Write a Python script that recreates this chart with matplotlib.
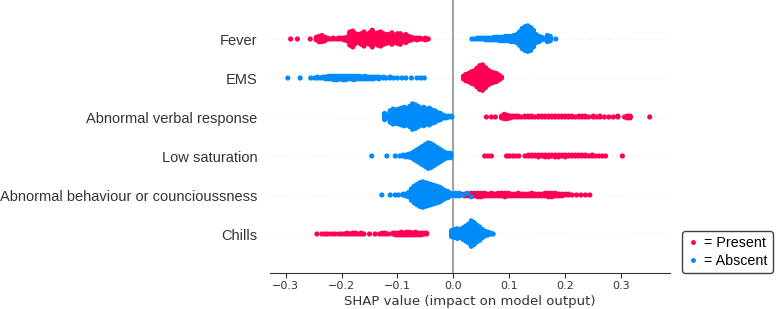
import numpy as np
import matplotlib
matplotlib.use("Agg")
import matplotlib.pyplot as plt
from matplotlib.lines import Line2D

RED = "#ff0052"
BLUE = "#008bfb"

features = ["Fever", "EMS", "Abnormal verbal response", "Low saturation",
            "Abnormal behaviour or councioussness", "Chills"]

# SHAP values: value of a little bin and how many dots sit in it
fever_present_x = [-0.291, -0.279, -0.256, -0.245, -0.240, -0.235, -0.230, -0.225, -0.220, -0.215,
                   -0.210, -0.205, -0.200, -0.195, -0.190, -0.185, -0.180, -0.175, -0.170, -0.165,
                   -0.160, -0.155, -0.150, -0.145, -0.140, -0.135, -0.130, -0.125, -0.120, -0.115,
                   -0.110, -0.105, -0.100, -0.095, -0.090, -0.085, -0.080, -0.075, -0.070, -0.065,
                   -0.060, -0.055, -0.050, -0.045]
fever_present_n = [1, 1, 1, 4, 7, 8, 5, 2, 1, 2,
                   1, 2, 2, 3, 5, 16, 19, 12, 10, 13,
                   17, 11, 14, 20, 12, 15, 17, 13, 11, 10,
                   14, 9, 12, 13, 8, 10, 6, 4, 2, 3,
                   2, 1, 3, 1]
fever_absent_x = [0.033, 0.038, 0.043, 0.048, 0.053, 0.058, 0.063, 0.068, 0.073, 0.078,
                  0.083, 0.088, 0.093, 0.098, 0.103, 0.108, 0.113, 0.118, 0.123, 0.128,
                  0.133, 0.138, 0.143, 0.148, 0.153, 0.158, 0.163, 0.168, 0.173, 0.183]
fever_absent_n = [1, 1, 2, 2, 2, 3, 3, 3, 4, 4,
                  5, 5, 6, 6, 7, 8, 10, 16, 24, 28,
                  30, 27, 20, 10, 7, 4, 1, 8, 6, 1]

ems_present_x = [0.018, 0.022, 0.027, 0.032, 0.037, 0.042, 0.047, 0.052, 0.057, 0.062,
                 0.067, 0.072, 0.077, 0.082, 0.086]
ems_present_n = [4, 8, 10, 14, 16, 22, 28, 30, 24, 18, 14, 12, 10, 6, 2]
ems_absent_x = [-0.296, -0.274, -0.255, -0.248, -0.243, -0.238, -0.233, -0.228, -0.223, -0.218,
                -0.213, -0.208, -0.203, -0.198, -0.193, -0.188, -0.183, -0.178, -0.173, -0.168,
                -0.163, -0.158, -0.153, -0.148, -0.143, -0.138, -0.133, -0.125, -0.120, -0.113,
                -0.107, -0.100, -0.092, -0.085, -0.075, -0.065, -0.058, -0.052]
ems_absent_n = [1, 1, 1, 1, 2, 1, 2, 3, 4, 4,
                5, 5, 4, 5, 5, 4, 4, 5, 4, 4,
                3, 4, 3, 3, 3, 2, 3, 2, 1, 2,
                1, 1, 1, 1, 1, 1, 1, 1]

avr_present_x = [0.059, 0.068, 0.075, 0.086, 0.091, 0.096, 0.101, 0.106, 0.111, 0.116,
                 0.122, 0.128, 0.134, 0.140, 0.146, 0.152, 0.158, 0.164, 0.170, 0.176,
                 0.182, 0.188, 0.194, 0.200, 0.206, 0.212, 0.218, 0.224, 0.230, 0.236,
                 0.242, 0.250, 0.256, 0.262, 0.270, 0.278, 0.286, 0.294, 0.306, 0.311,
                 0.316, 0.351]
avr_present_n = [1, 1, 1, 3, 6, 5, 3, 2, 2, 2,
                 1, 2, 2, 2, 1, 2, 2, 2, 2, 2,
                 2, 2, 2, 2, 2, 2, 1, 2, 2, 2,
                 1, 2, 1, 2, 1, 1, 1, 2, 1, 3,
                 3, 1]
avr_absent_x = [-0.123, -0.118, -0.113, -0.108, -0.103, -0.098, -0.093, -0.088, -0.083, -0.078,
                -0.073, -0.068, -0.063, -0.058, -0.053, -0.048, -0.043, -0.038, -0.033, -0.028,
                -0.023, -0.018, -0.013, -0.008, -0.003]
avr_absent_n = [8, 2, 14, 18, 16, 18, 20, 22, 20, 24,
                30, 28, 24, 20, 22, 18, 20, 16, 14, 10,
                8, 4, 3, 2, 2]

low_present_x = [0.056, 0.062, 0.068, 0.095, 0.100, 0.106, 0.111, 0.117, 0.128, 0.134,
                 0.140, 0.146, 0.152, 0.158, 0.164, 0.170, 0.176, 0.182, 0.188, 0.194,
                 0.200, 0.206, 0.212, 0.218, 0.224, 0.230, 0.236, 0.242, 0.248, 0.254,
                 0.260, 0.266, 0.272, 0.302]
low_present_n = [1, 1, 1, 1, 1, 1, 1, 1, 1, 2,
                 2, 2, 3, 2, 3, 3, 2, 3, 3, 2,
                 3, 2, 2, 2, 2, 2, 2, 1, 2, 1,
                 1, 1, 1, 1]
low_absent_x = [-0.146, -0.119, -0.104, -0.096, -0.090, -0.085, -0.080, -0.075, -0.070, -0.065,
                -0.060, -0.055, -0.050, -0.045, -0.040, -0.035, -0.030, -0.025, -0.020, -0.015,
                -0.010, -0.005]
low_absent_n = [1, 1, 1, 1, 2, 3, 4, 6, 10, 14,
                18, 22, 26, 30, 28, 24, 20, 16, 12, 8,
                6, 6]

abc_present_x = [0.002, 0.008, 0.014, 0.020, 0.026, 0.032, 0.038, 0.044, 0.050, 0.056,
                 0.062, 0.068, 0.074, 0.080, 0.086, 0.092, 0.098, 0.104, 0.110, 0.116,
                 0.122, 0.128, 0.134, 0.140, 0.146, 0.152, 0.158, 0.164, 0.170, 0.176,
                 0.182, 0.188, 0.194, 0.200, 0.206, 0.212, 0.220, 0.228, 0.236, 0.244]
abc_present_n = [2, 2, 2, 3, 3, 4, 4, 5, 5, 4,
                 3, 4, 3, 4, 4, 5, 4, 3, 3, 4,
                 3, 3, 3, 4, 3, 3, 3, 4, 5, 5,
                 4, 3, 3, 2, 2, 1, 1, 1, 1, 1]
abc_absent_x = [-0.128, -0.113, -0.104, -0.098, -0.090, -0.085, -0.080, -0.075, -0.070, -0.065,
                -0.060, -0.055, -0.050, -0.045, -0.040, -0.035, -0.030, -0.025, -0.020, -0.015,
                -0.010, -0.005, 0.004, 0.010, 0.018, 0.025, 0.032]
abc_absent_n = [1, 1, 1, 1, 2, 3, 6, 14, 20, 24,
                28, 30, 28, 26, 24, 22, 20, 18, 14, 10,
                8, 4, 2, 2, 1, 1, 1]

chills_present_x = [-0.244, -0.235, -0.230, -0.225, -0.218, -0.212, -0.205, -0.200, -0.195, -0.190,
                    -0.185, -0.180, -0.175, -0.170, -0.165, -0.160, -0.150, -0.140, -0.132, -0.127,
                    -0.122, -0.116, -0.108, -0.103, -0.098, -0.093, -0.088, -0.083, -0.078, -0.073,
                    -0.068, -0.063, -0.058, -0.053, -0.048]
chills_present_n = [1, 1, 1, 1, 1, 1, 1, 1, 1, 2,
                    1, 2, 2, 1, 2, 1, 1, 1, 1, 2,
                    2, 1, 2, 3, 3, 4, 3, 4, 4, 3,
                    4, 3, 3, 2, 2]
chills_absent_x = [-0.003, 0.002, 0.007, 0.012, 0.017, 0.022, 0.027, 0.032, 0.037, 0.042,
                   0.047, 0.052, 0.057, 0.062, 0.067, 0.071]
chills_absent_n = [8, 10, 12, 10, 14, 18, 22, 30, 26, 20, 16, 10, 6, 4, 2, 1]

series = {
    "Fever": (fever_present_x, fever_present_n, fever_absent_x, fever_absent_n),
    "EMS": (ems_present_x, ems_present_n, ems_absent_x, ems_absent_n),
    "Abnormal verbal response": (avr_present_x, avr_present_n, avr_absent_x, avr_absent_n),
    "Low saturation": (low_present_x, low_present_n, low_absent_x, low_absent_n),
    "Abnormal behaviour or councioussness": (abc_present_x, abc_present_n, abc_absent_x, abc_absent_n),
    "Chills": (chills_present_x, chills_present_n, chills_absent_x, chills_absent_n),
}


def swarm_offsets(shaps, row_height=0.4, nbins=100):
    # same stacking as shap's beeswarm: bin the values, pile dots up and down
    quant = np.round(nbins * (shaps - shaps.min()) / (shaps.max() - shaps.min() + 1e-8))
    inds = np.argsort(quant, kind="stable")
    ys = np.zeros(len(shaps))
    layer = 0
    last_bin = -1
    for ind in inds:
        if quant[ind] != last_bin:
            layer = 0
        ys[ind] = np.ceil(layer / 2) * ((layer % 2) * 2 - 1)
        layer += 1
        last_bin = quant[ind]
    ys *= 0.9 * (row_height / np.max(ys + 1))
    return ys


fig = plt.figure(figsize=(7.78, 3.09), dpi=100)
ax = fig.add_axes([0.347, 0.1165, 0.514, 0.8835])

n_feat = len(features)
for i, name in enumerate(features):
    pos = n_feat - 1 - i
    px, pn, bx, bn = series[name]
    vals = np.concatenate([np.repeat(px, pn), np.repeat(bx, bn)])
    cols = [RED] * int(np.sum(pn)) + [BLUE] * int(np.sum(bn))
    ys = swarm_offsets(vals)
    ax.axhline(pos, color="#cccccc", lw=0.5, dashes=(1, 5), zorder=-1)
    ax.scatter(vals, pos + ys, s=14, c=cols, linewidth=0, zorder=3, rasterized=True)

ax.axvline(0, color="#999999", lw=1.3, zorder=-1)

ax.set_xlim(-0.328, 0.387)
ax.set_ylim(-1, n_feat)
ax.set_yticks(range(n_feat))
ax.set_yticklabels(features[::-1], family="Liberation Sans", fontsize=10.5, color="#333333")
ax.set_xticks([-0.3, -0.2, -0.1, 0.0, 0.1, 0.2, 0.3])
ax.tick_params(axis="y", length=0, pad=9)
ax.tick_params(axis="x", labelsize=8, colors="#333333", length=3.5, pad=2)
ax.set_xlabel("SHAP value (impact on model output)", fontsize=9.5, color="#333333", labelpad=3)
for side in ["top", "right", "left"]:
    ax.spines[side].set_visible(False)
ax.spines["bottom"].set_color("#333333")

handles = [Line2D([], [], marker="o", ls="", color=RED, markersize=2.5, label="= Present"),
           Line2D([], [], marker="o", ls="", color=BLUE, markersize=2.5, label="= Abscent")]
fig.legend(handles=handles, loc="lower left", bbox_to_anchor=(0.8766, 0.1165),
           prop={"family": "Liberation Sans", "size": 10.3}, edgecolor="0.25",
           fancybox=True, framealpha=1, handlelength=0.8, handletextpad=0.4,
           borderpad=0.35, labelspacing=0.3, borderaxespad=0)

fig.savefig("out.png", dpi=100)
